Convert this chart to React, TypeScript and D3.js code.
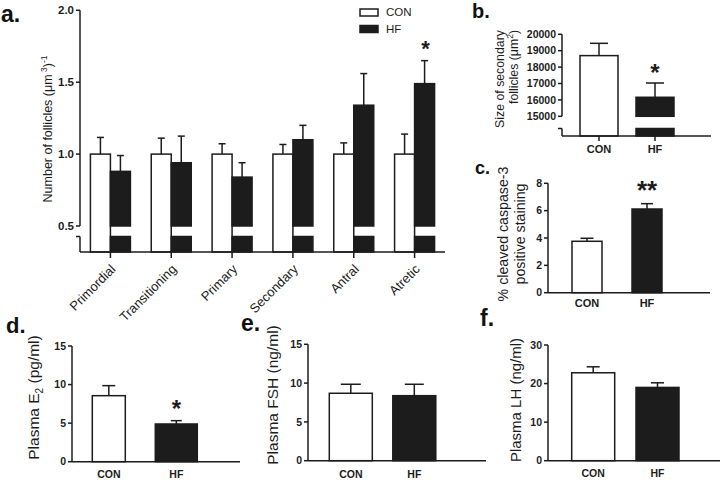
import React from 'react';
import * as d3 from 'd3';

// ---------- DATA ----------
const groups = ['CON', 'HF'];

const categoriesA = ['Primordial', 'Transitioning', 'Primary', 'Secondary', 'Antral', 'Atretic'];
const conA = [1.0, 1.0, 1.0, 1.0, 1.0, 1.0];
const conSemA = [0.116, 0.111, 0.072, 0.067, 0.078, 0.139];
const hfA = [0.88, 0.94, 0.84, 1.1, 1.34, 1.49];
const hfSemA = [0.11, 0.185, 0.1, 0.1, 0.22, 0.16];
const ticksA = [0.5, 1.0, 1.5, 2.0];
const starsA = ['', '', '', '', '', '*'];

const sizeB = [18700, 16160];
const semB = [750, 870];
const ticksB = [15000, 16000, 17000, 18000, 19000, 20000];
const starsB = ['', '*'];

const caspC = [3.76, 6.12];
const semC = [0.22, 0.39];
const ticksC = [0, 2, 4, 6, 8];
const starsC = ['', '**'];

const e2D = [8.56, 4.89];
const semD = [1.3, 0.43];
const ticksD = [0, 5, 10, 15];
const starsD = ['', '*'];

const fshE = [8.69, 8.38];
const semE = [1.16, 1.47];
const ticksE = [0, 5, 10, 15];
const starsE = ['', ''];

const lhF = [22.8, 19.0];
const semF = [1.55, 1.2];
const ticksF = [0, 10, 20, 30];
const starsF = ['', ''];

// ---------- STYLE ----------
const INK = '#1c1c1c';
const SW = 1.5;
const FONT = '"Liberation Sans", Arial, sans-serif';
const fills = ['#ffffff', '#1c1c1c'];

function YAxis({ x, y, ticks, bottom, brk, fs }: any) {
  const top = y(d3.max(ticks) as number);
  const lo = y(d3.min(ticks) as number);
  return (
    <g>
      {brk ? (
        <>
          <line x1={x} x2={x} y1={top} y2={lo} stroke={INK} strokeWidth={SW} />
          <line x1={x} x2={x} y1={brk.lowTop} y2={bottom} stroke={INK} strokeWidth={SW} />
          <line x1={x - 4} x2={x} y1={brk.lowTop} y2={brk.lowTop} stroke={INK} strokeWidth={SW} />
        </>
      ) : (
        <line x1={x} x2={x} y1={top} y2={bottom} stroke={INK} strokeWidth={SW} />
      )}
      {ticks.map((t: number, i: number) => (
        <g key={i}>
          <line x1={x - 4} x2={x} y1={y(t)} y2={y(t)} stroke={INK} strokeWidth={SW} />
          <text x={x - 6} y={y(t)} dy="0.36em" textAnchor="end" fontSize={fs} fontWeight="bold" fill={INK} fontFamily={FONT}>
            {t.toFixed(ticks.some((v: number) => v % 1 !== 0) ? 1 : 0)}
          </text>
        </g>
      ))}
    </g>
  );
}

function Bar({ x0, w, yTop, yBottom, fill, brk, yBreak }: any) {
  if (fill === '#ffffff') {
    return <rect x={x0} y={yTop} width={w} height={yBottom - yTop} fill="#fff" stroke={INK} strokeWidth={SW} />;
  }
  if (brk) {
    return (
      <g>
        <rect x={x0} y={yTop} width={w} height={yBreak - yTop} fill={fill} stroke={INK} strokeWidth={SW} />
        <rect x={x0} y={brk.lowTop} width={w} height={yBottom - brk.lowTop} fill={fill} stroke={INK} strokeWidth={SW} />
      </g>
    );
  }
  return <rect x={x0} y={yTop} width={w} height={yBottom - yTop} fill={fill} stroke={INK} strokeWidth={SW} />;
}

function ErrBar({ cx, y1, y2, cap }: any) {
  return (
    <g>
      <line x1={cx} x2={cx} y1={y1} y2={y2} stroke={INK} strokeWidth={SW} />
      <line x1={cx - cap / 2} x2={cx + cap / 2} y1={y2} y2={y2} stroke={INK} strokeWidth={SW} />
    </g>
  );
}

function Star({ cx, cy, text, fs }: any) {
  return (
    <text x={cx} y={cy + fs * 0.58} textAnchor="middle" fontSize={fs} fontWeight="bold" fill={INK} fontFamily={FONT}>
      {text}
    </text>
  );
}

function TwoBar(p: any) {
  const y = d3.scaleLinear().domain(p.domain).range(p.yRange);
  const x = d3.scaleBand<string>().domain(groups).range(p.xRange).paddingInner(0);
  const bottom = p.axisY;
  const yBreak = y(p.domain[0]);
  return (
    <g>
      {p.values.map((v: number, i: number) => {
        const g = groups[i];
        const cx = (x(g) as number) + x.bandwidth() / 2;
        const w = p.widths[i];
        return (
          <g key={g}>
            <Bar x0={cx - w / 2} w={w} yTop={y(v)} yBottom={bottom} fill={fills[i]} brk={p.brk} yBreak={yBreak} />
            <ErrBar cx={cx} y1={y(v)} y2={y(v + p.sems[i])} cap={p.caps[i]} />
            {p.stars[i] ? <Star cx={cx} cy={y(v + p.sems[i]) - p.starGap} text={p.stars[i]} fs={p.starFs} /> : null}
            {p.xTicks ? <line x1={cx} x2={cx} y1={bottom} y2={bottom + 5} stroke={INK} strokeWidth={SW} /> : null}
            <text x={cx} y={p.catY} textAnchor="middle" fontSize={p.catFs} fontWeight="bold" fill={INK} fontFamily={FONT}>
              {g}
            </text>
          </g>
        );
      })}
      <line x1={p.axisX[0]} x2={p.axisX[1]} y1={bottom} y2={bottom} stroke={INK} strokeWidth={SW} />
      <YAxis x={p.axisX[0]} y={y} ticks={p.ticks} bottom={bottom} brk={p.brk} fs={p.tickFs} />
      {p.title}
      <text x={p.tag.x} y={p.tag.y} fontSize={p.tag.fs} fontWeight="bold" fill="#111" fontFamily={FONT}>
        {p.tag.t}
      </text>
    </g>
  );
}

function PanelA() {
  const y = d3.scaleLinear().domain([0.5, 2.0]).range([226, 10.3]);
  const x = d3.scaleBand<string>().domain(categoriesA).range([80, 445]).paddingInner(0);
  const inner = d3.scaleBand<string>().domain(groups).range([0, 40]);
  const bottom = 252;
  const brk = { gapTop: 226, lowTop: 236.5 };
  const off = (x.bandwidth() - 40) / 2;
  return (
    <g>
      {categoriesA.map((c, i) => {
        const gx = (x(c) as number) + off;
        const vals = [conA[i], hfA[i]];
        const sems = [conSemA[i], hfSemA[i]];
        const cx = (x(c) as number) + x.bandwidth() / 2;
        return (
          <g key={c}>
            {vals.map((v, j) => {
              const bx = gx + (inner(groups[j]) as number);
              const bw = inner.bandwidth();
              return (
                <g key={j}>
                  <Bar x0={bx} w={bw} yTop={y(v)} yBottom={bottom} fill={fills[j]} brk={brk} yBreak={y(0.5)} />
                  <ErrBar cx={bx + bw / 2} y1={y(v)} y2={y(v + sems[j])} cap={7} />
                </g>
              );
            })}
            {starsA[i] ? (
              <Star cx={gx + (inner('HF') as number) + inner.bandwidth() / 2 + 1} cy={y(hfA[i] + hfSemA[i]) - 17} text={starsA[i]} fs={22} />
            ) : null}
            <line x1={cx} x2={cx} y1={bottom} y2={bottom + 6} stroke={INK} strokeWidth={SW} />
            <text
              transform={`translate(${cx + 6},${bottom + 18}) rotate(-45)`}
              textAnchor="end"
              fontSize={13}
              fill={INK}
              fontFamily={FONT}
            >
              {c}
            </text>
          </g>
        );
      })}
      <line x1={80} x2={445} y1={bottom} y2={bottom} stroke={INK} strokeWidth={SW} />
      <YAxis x={80} y={y} ticks={ticksA} bottom={bottom} brk={brk} fs={11.5} />
      <text transform="translate(52,129) rotate(-90)" textAnchor="middle" fontSize={12.5} fill={INK} fontFamily={FONT}>
        Number of follicles (μm
        <tspan dy={-5} fontSize={8.5}> 3</tspan>
        <tspan dy={5}>)</tspan>
        <tspan dy={-5} fontSize={8.5}>-1</tspan>
      </text>
      {/* legend */}
      <rect x={360} y={9} width={18} height={7} fill="#fff" stroke={INK} strokeWidth={SW} />
      <rect x={360} y={25.5} width={18} height={7} fill={INK} stroke={INK} strokeWidth={SW} />
      <text x={386} y={16} fontSize={11.5} fill={INK} fontFamily={FONT}>CON</text>
      <text x={386} y={32.5} fontSize={11.5} fill={INK} fontFamily={FONT}>HF</text>
      <text x={1} y={22} fontSize={23} fontWeight="bold" fill="#111" fontFamily={FONT}>a.</text>
    </g>
  );
}

export default function App() {
  return (
    <svg width={722} height={480} style={{ position: 'absolute', left: 0, top: 0, background: '#fff' }}>
      <rect width={722} height={480} fill="#fff" />
      <PanelA />
      {/* b */}
      <TwoBar
        values={sizeB} sems={semB} ticks={ticksB} domain={[15000, 20000]} yRange={[116.3, 34.3]}
        xRange={[571, 683]} axisX={[562, 711]} axisY={136} widths={[38, 38]} caps={[18, 18]}
        brk={{ gapTop: 116.3, lowTop: 128.5 }} xTicks stars={starsB} starGap={16} starFs={24}
        catY={153} catFs={11} tickFs={10.5}
        tag={{ x: 472, y: 18, fs: 20, t: 'b.' }}
        title={
          <g fontFamily={FONT} fill={INK} fontSize={12.3}>
            <text transform="translate(504,79) rotate(-90)" textAnchor="middle">Size of secondary</text>
            <text transform="translate(518,67) rotate(-90)" textAnchor="middle">
              follicles (μm<tspan dy={-5} fontSize={8.5}>2</tspan><tspan dy={5}>)</tspan>
            </text>
          </g>
        }
      />
      {/* c */}
      <TwoBar
        values={caspC} sems={semC} ticks={ticksC} domain={[0, 8]} yRange={[292.7, 183.3]}
        xRange={[557, 677]} axisX={[548, 710]} axisY={292.7} widths={[30, 30]} caps={[13, 12]}
        stars={starsC} starGap={20} starFs={26} catY={307} catFs={11} tickFs={10.5}
        tag={{ x: 475, y: 174, fs: 18, t: 'c.' }}
        title={
          <g fontFamily={FONT} fill={INK} fontSize={14.2}>
            <text transform="translate(508,234) rotate(-90)" textAnchor="middle">% cleaved caspase-3</text>
            <text transform="translate(525,234) rotate(-90)" textAnchor="middle">positive staining</text>
          </g>
        }
      />
      {/* d */}
      <TwoBar
        values={e2D} sems={semD} ticks={ticksD} domain={[0, 15]} yRange={[461.7, 346]}
        xRange={[75.05, 210.05]} axisX={[72, 240]} axisY={461.7} widths={[33, 42]} caps={[13, 11]}
        stars={starsD} starGap={18} starFs={24} catY={478} catFs={10.5} tickFs={10.5}
        tag={{ x: 6, y: 333, fs: 22, t: 'd.' }}
        title={
          <text transform="translate(39,397.5) rotate(-90)" textAnchor="middle" fontFamily={FONT} fill={INK} fontSize={15.5}>
            Plasma E<tspan dy={4} fontSize={10}>2</tspan><tspan dy={-4}> (pg/ml)</tspan>
          </text>
        }
      />
      {/* e */}
      <TwoBar
        values={fshE} sems={semE} ticks={ticksE} domain={[0, 15]} yRange={[460.7, 344.3]}
        xRange={[319.05, 446.05]} axisX={[308, 486]} axisY={460.7} widths={[43, 43]} caps={[20, 19]}
        stars={starsE} starGap={18} starFs={24} catY={478} catFs={10.5} tickFs={10.5}
        tag={{ x: 241, y: 331, fs: 23, t: 'e.' }}
        title={
          <text transform="translate(277.5,395) rotate(-90)" textAnchor="middle" fontFamily={FONT} fill={INK} fontSize={15.5}>
            Plasma FSH (ng/ml)
          </text>
        }
      />
      {/* f */}
      <TwoBar
        values={lhF} sems={semF} ticks={ticksF} domain={[0, 30]} yRange={[460.7, 345]}
        xRange={[561.05, 689.65]} axisX={[548, 720]} axisY={460.7} widths={[43, 43]} caps={[13, 13]}
        stars={starsF} starGap={18} starFs={24} catY={477} catFs={10.5} tickFs={10.5}
        tag={{ x: 480, y: 326, fs: 23, t: 'f.' }}
        title={
          <text transform="translate(521,400) rotate(-90)" textAnchor="middle" fontFamily={FONT} fill={INK} fontSize={15}>
            Plasma LH (ng/ml)
          </text>
        }
      />
    </svg>
  );
}
